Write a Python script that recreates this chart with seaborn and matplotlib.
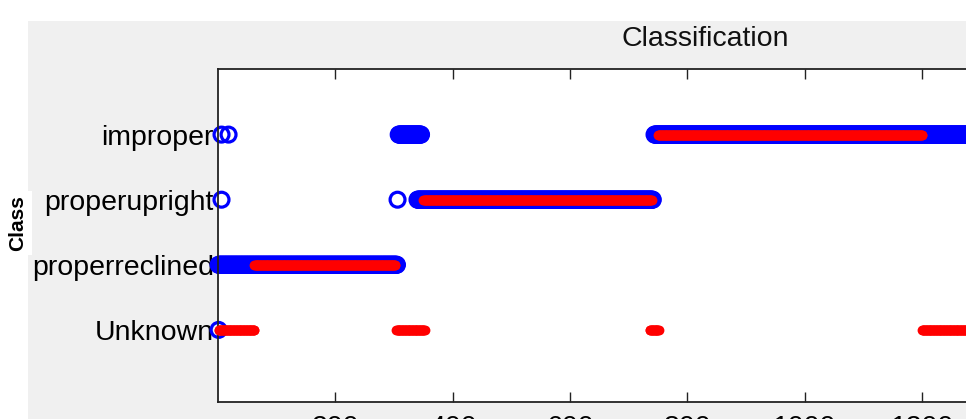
import numpy as np
import pandas as pd
import seaborn as sns
from matplotlib import pyplot as plt
from matplotlib.patches import Rectangle

classes = ["Unknown", "properreclined", "properupright", "improper"]

# runs of consecutive sample indices: class, first sample, last sample
true_class = ["improper", "improper", "improper", "improper",
              "properupright", "properupright", "properupright",
              "properreclined", "Unknown"]
true_start = [6, 18, 308, 744, 6, 306, 340, 1, 1]
true_end = [6, 18, 346, 1660, 6, 306, 741, 305, 1]

pred_class = ["improper", "properupright", "properreclined",
              "Unknown", "Unknown", "Unknown", "Unknown"]
pred_start = [750, 350, 62, 1, 304, 736, 1200]
pred_end = [1200, 739, 302, 62, 352, 751, 1660]


def expand(cls, start, end):
    rows = []
    for c, a, b in zip(cls, start, end):
        for i in range(a, b + 1):
            rows.append((i, classes.index(c) + 1))
    return pd.DataFrame(rows, columns=["sample", "cls"])


true_df = expand(true_class, true_start, true_end)
pred_df = expand(pred_class, pred_start, pred_end)

plt.rcParams['font.family'] = ['Liberation Sans', 'DejaVu Sans']

fig = plt.figure(figsize=(9.66, 4.19), dpi=100)
fig.patch.set_facecolor("white")
fig.patches.append(Rectangle((28 / 966, 0), 1, 1 - 21 / 419, transform=fig.transFigure,
                             facecolor="#f0f0f0", edgecolor="none", zorder=-10))

ax = fig.add_axes([218 / 966, 17.5 / 419, 974 / 966, 332 / 419])
ax.set_facecolor("white")

sns.scatterplot(data=true_df, x="sample", y="cls", ax=ax, marker="o", s=115,
                color="none", edgecolor="blue", linewidth=2.3, zorder=2, clip_on=False)
sns.scatterplot(data=pred_df, x="sample", y="cls", ax=ax, marker="o", s=50,
                color="red", edgecolor="red", linewidth=0, zorder=3, clip_on=False)

ax.set_xlim(0, 1660)
ax.set_ylim(-0.1, 5)
ax.set_yticks([1, 2, 3, 4])
ax.set_yticklabels(classes, fontsize=20.5)
ax.set_xticks([200, 400, 600, 800, 1000, 1200, 1400, 1600])
ax.tick_params(axis="x", labelsize=20.5, pad=10)
ax.tick_params(direction="in", length=7, width=1, top=True, right=True, color="#222222")
ax.tick_params(axis="y", length=0, pad=3)
for sp in ax.spines.values():
    sp.set_linewidth(1.3)
    sp.set_color("#222222")

ax.set_xlabel("")
ax.set_ylabel("")
ax.set_title("Classification", fontsize=20.5, pad=17, color="#111111")
fig.text(18 / 966, 1 - 223 / 419, "Class", rotation=90, fontsize=15, fontweight="bold",
         ha="center", va="center",
         bbox=dict(facecolor="white", edgecolor="none", pad=3))

fig.savefig("out.png", dpi=100)
